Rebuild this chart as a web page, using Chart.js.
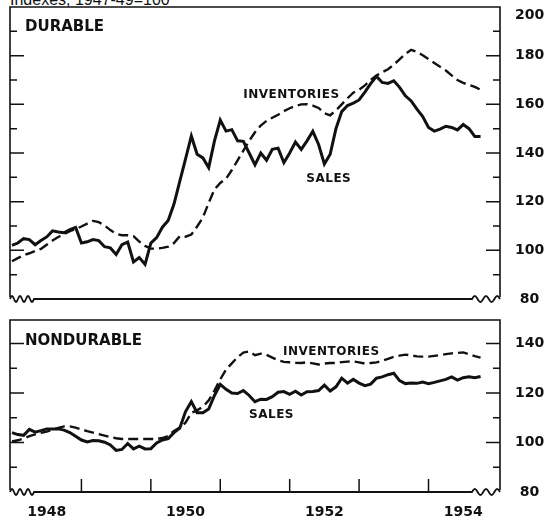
<!DOCTYPE html>
<html>
<head>
<meta charset="utf-8">
<script src="https://cdn.jsdelivr.net/npm/chart.js@4.4.0/dist/chart.umd.min.js"></script>
<style>
  body { margin: 0; background: #fff; width: 556px; height: 521px; overflow: hidden; position: relative; }
  #note { position: absolute; left: 10px; top: -8px; font: 16px/16px "Liberation Sans", sans-serif; color: #111; white-space: nowrap; }
  canvas { position: absolute; left: 0; }
  #durable { top: 0; }
  #nondurable { top: 310px; }
</style>
</head>
<body>
<div id="note">Indexes, 1947-49=100</div>
<canvas id="durable" width="556" height="310"></canvas>
<canvas id="nondurable" width="556" height="211"></canvas>
<script>
// monthly indexes, Jan 1948 - Oct 1954
const durableSales = [
  102, 103, 104.8, 104.4, 102.3, 104, 105.5, 108, 107.5, 107.2, 108.5, 109.4,
  103, 103.5, 104.4, 104, 101.5, 101, 98.3, 102.3, 103.4, 95.2, 97, 94.2,
  103, 105.2, 109.5, 112.3, 119, 128.3, 137.6, 147, 139.5, 138, 134, 145,
  153.5, 149, 149.6, 145, 144.8, 140, 135.1, 140, 137, 141.5, 142, 136,
  140, 144.5, 141.5, 145, 148.9, 143.5, 135.5, 139.5, 150, 157, 159.5, 160.5,
  161.8, 165, 168.5, 171.5, 169, 168.6, 169.7, 167, 163.5, 161.4, 158, 155,
  150.5, 149, 149.8, 151, 150.5, 149.5, 151.7, 150, 146.8, 146.8
];
const durableInventories = [
  95.5, 96.8, 98, 98.8, 99.7, 100.6, 102.3, 104, 105.5, 106.7, 107.9, 108.7,
  109.8, 111, 112.1, 111.6, 110.2, 108.3, 106.8, 106.2, 106.2, 105.8, 103.6, 101.8,
  100.7, 100.7, 101, 101.5, 103, 105.8, 105.6, 106.5, 109.8, 113.5, 119.5, 125,
  127.7, 129.4, 133, 137, 141, 145, 148.5, 151.3, 153.2, 154.5, 155.7, 157.2,
  158.4, 159.3, 160, 160.1, 159.5, 158.5, 156.3, 155.5, 157.5, 160, 162.5, 164.8,
  166, 167.8, 170, 171.8, 173.2, 174.4, 176.3, 178.5, 180.7, 182.4, 181.5, 180.2,
  178.6, 177, 175.4, 173.9, 171.9, 170, 168.8, 168, 167.2, 166
];
const nondurableSales = [
  104, 103.2, 102.9, 105.3, 104.2, 104.8, 105.5, 105.5, 105.5, 105, 104, 102.5,
  101, 100.2, 100.8, 100.7, 100.1, 99, 96.8, 97.2, 99.6, 97.4, 98.5, 97.4,
  97.5, 99.8, 101, 101.6, 104, 105.8, 112.5, 116.5, 112, 112, 113.5, 119,
  123.5, 121.5, 120, 119.8, 121, 119, 116.5, 117.5, 117.4, 118.5, 120.3, 120.6,
  119.5, 120.7, 119.2, 120.5, 120.6, 121, 123.2, 120.8, 122.5, 126, 124, 125.5,
  124, 123, 123.6, 126, 126.5, 127.4, 128, 125, 123.8, 124, 123.9, 124.4,
  123.8, 124.3, 124.9, 125.5, 126.5, 125.2, 126.2, 126.6, 126.2, 126.7
];
const nondurableInventories = [
  100.4, 100.9, 101.6, 102.6, 103.3, 103.9, 104.4, 105.2, 105.9, 106.5, 106.5, 106,
  105.3, 104.6, 104, 103.4, 102.8, 102.2, 101.7, 101.4, 101.4, 101.4, 101.4, 101.4,
  101.4, 101.4, 101.8, 102.6, 104.7, 106, 108, 112, 113, 114.5, 117, 121,
  125.5, 129.5, 132, 134.5, 136.3, 136.8, 135.3, 135.9, 135.4, 134.3, 133.2, 132.6,
  132.4, 132.2, 132.1, 132.4, 132, 131.5, 131.9, 132.1, 132.1, 132.5, 132.7, 132.8,
  132.4, 131.9, 132.1, 132.4, 133, 133.8, 134.6, 135.1, 135.5, 135.2, 134.8, 134.7,
  134.7, 135, 135.3, 135.7, 136, 136.2, 136.4, 135.7, 134.9, 134.3
];
const months = durableSales.map((_, i) => 1948 + i / 12);
const yearLabels = [1948, 1950, 1952, 1954];
const yearTicks = [1949, 1950, 1951, 1952, 1953, 1954];
const durableTicks = [80, 100, 120, 140, 160, 180, 200];
const nondurableTicks = [80, 100, 120, 140];

const INK = '#111';
const BOLD = 'DejaVu Sans';

// little squiggle for the broken baseline
function wave(ctx, x0, y0, w, humps, first) {
  const n = 30;
  for (let i = 0; i <= n; i++) {
    const px = x0 + w * i / n;
    const py = y0 - 3 * Math.sin(i / n * Math.PI * 2 * humps);
    if (i === 0 && first) ctx.moveTo(px, py); else ctx.lineTo(px, py);
  }
}

const framePlugin = {
  id: 'frame',
  afterDraw(chart, args, opts) {
    const { ctx, chartArea: a, scales: { x, y } } = chart;
    ctx.save();
    ctx.strokeStyle = INK;
    ctx.lineWidth = 1.6;
    ctx.beginPath();
    ctx.moveTo(a.left, a.bottom - 2);
    ctx.lineTo(a.left, a.top);
    ctx.lineTo(a.right, a.top);
    ctx.lineTo(a.right, a.bottom - 2);
    ctx.stroke();

    ctx.lineWidth = 1.8;
    ctx.beginPath();
    wave(ctx, a.left, a.bottom, 24, 3, true);
    ctx.lineTo(a.right - 28, a.bottom);
    wave(ctx, a.right - 28, a.bottom, 28, 2.5, false);
    ctx.stroke();

    // inward ticks on both sides
    ctx.lineWidth = 1.5;
    for (let v = Math.ceil(y.min / 10) * 10; v < y.max; v += 10) {
      if (v === y.min) continue;
      const py = y.getPixelForValue(v);
      const len = v % 20 === 0 ? 14 : 7;
      ctx.beginPath();
      ctx.moveTo(a.left, py); ctx.lineTo(a.left + len, py);
      ctx.moveTo(a.right - len, py); ctx.lineTo(a.right, py);
      ctx.stroke();
    }
    if (opts.yearMarks) {
      opts.yearMarks.forEach(yr => {
        const px = x.getPixelForValue(yr);
        ctx.beginPath();
        ctx.moveTo(px, a.bottom); ctx.lineTo(px, a.bottom - 13);
        ctx.stroke();
      });
    }

    ctx.fillStyle = INK;
    ctx.textAlign = 'left';
    ctx.textBaseline = 'alphabetic';
    ctx.font = 'bold 15px "' + BOLD + '"';
    ctx.fillText(opts.title, a.left + 15, a.top + opts.titleDrop);
    ctx.font = 'bold 12px "' + BOLD + '"';
    ctx.letterSpacing = '0.5px';
    opts.labels.forEach(l => {
      ctx.fillText(l.text, x.getPixelForValue(l.x), y.getPixelForValue(l.y));
    });
    ctx.restore();
  }
};

function makePanel(id, sales, inventories, yMin, yMax, yTicks, frame, showYears, pad) {
  return new Chart(document.getElementById(id), {
    type: 'line',
    data: {
      datasets: [{
        label: 'Inventories',
        data: inventories.map((v, i) => ({ x: months[i], y: v })),
        borderColor: INK,
        borderWidth: 2.4,
        borderDash: [10, 5],
        pointRadius: 0,
        tension: 0,
      }, {
        label: 'Sales',
        data: sales.map((v, i) => ({ x: months[i], y: v })),
        borderColor: INK,
        borderWidth: 3,
        pointRadius: 0,
        tension: 0,
      }],
    },
    options: {
      responsive: false,
      animation: false,
      layout: { padding: pad },
      plugins: { legend: { display: false }, tooltip: { enabled: false }, frame: frame },
      scales: {
        x: {
          type: 'linear',
          min: 1947.971,
          max: 1955.03,
          display: showYears,
          afterBuildTicks: s => { s.ticks = yearLabels.map(yr => ({ value: yr + 0.5 })); },
          afterFit: s => {
            s.height = showYears ? 29 : 0;
            s.paddingLeft = 0; s.paddingRight = 0;
          },
          grid: { display: false, drawTicks: false },
          border: { display: false },
          ticks: {
            callback: (v, i) => String(yearLabels[i]),
            color: INK,
            font: { family: BOLD, weight: 'bold', size: 14 },
            padding: 12,
            maxRotation: 0,
            autoSkip: false,
          },
        },
        y: {
          position: 'right',
          min: yMin,
          max: yMax,
          afterBuildTicks: s => { s.ticks = yTicks.map(v => ({ value: v })); },
          afterFit: s => {
            s.width = 56;
            s.paddingTop = 0; s.paddingBottom = 0;
          },
          grid: { display: false, drawTicks: false },
          border: { display: false },
          ticks: {
            // the top label sits a little below its value, as in the print
            callback: v => (v === yMax ? ['', String(v)] : String(v)),
            color: INK,
            font: { family: BOLD, weight: 'bold', size: 14 },
            padding: 15,
            crossAlign: 'center',
          },
        },
      },
    },
    plugins: [framePlugin],
  });
}

makePanel('durable', durableSales, durableInventories, 80, 200, durableTicks, {
  title: 'DURABLE',
  titleDrop: 24,
  labels: [
    { text: 'INVENTORIES', x: 1951.33, y: 162.6 },
    { text: 'SALES', x: 1952.24, y: 128.1 },
  ],
}, false, { left: 10, top: 7, right: 0, bottom: 11 });

makePanel('nondurable', nondurableSales, nondurableInventories, 80, 149.5, nondurableTicks, {
  title: 'NONDURABLE',
  titleDrop: 25,
  yearMarks: yearTicks,
  labels: [
    { text: 'INVENTORIES', x: 1951.905, y: 135.35 },
    { text: 'SALES', x: 1951.415, y: 109.9 },
  ],
}, true, { left: 10, top: 10, right: 0, bottom: 0 });
</script>
</body>
</html>
